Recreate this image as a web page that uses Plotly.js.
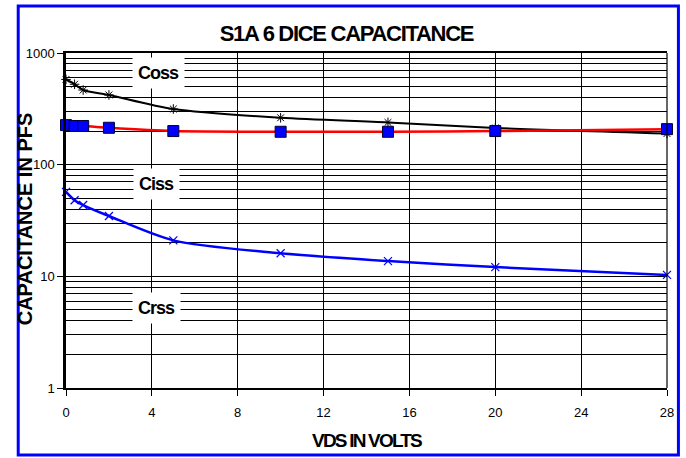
<!DOCTYPE html>
<html><head><meta charset="utf-8">
<script src="https://cdn.plot.ly/plotly-3.0.1.min.js"></script>
<style>
html,body{margin:0;padding:0;background:#fff}
#chart{width:686px;height:458px}
.gtitle{letter-spacing:-1.3px}
.xtitle{letter-spacing:-1.8px}
.annotation-text{letter-spacing:-1px}
.annotation[data-index="3"] .annotation-text{letter-spacing:0}
</style>
</head><body><div id="chart"></div>
<script>
const vds = [0, 0.4, 0.8, 2, 5, 10, 15, 20, 28];
const coss = [580, 525, 466, 421, 315, 263, 239, 213, 190];
const ciss = [226, 222, 222, 214, 200, 197, 197, 200, 208];
const crss = [57, 48, 43.5, 34.7, 21, 16.1, 13.7, 12.1, 10.3];
const xTicks = [0, 4, 8, 12, 16, 20, 24, 28];
const yTicks = [1, 10, 100, 1000];
const yTickText = ['1', '10', '100', '1000'];
const labels = ['Coss', 'Ciss', 'Crss'];
const labelPos = [[4.3, 660], [4.2, 67], [4.2, 5.2]];

const traces = [
  {x: vds, y: coss, mode: 'lines+markers', name: 'Coss', cliponaxis: false,
   line: {color: '#000', width: 2, shape: 'spline', smoothing: 0.8},
   marker: {symbol: 'asterisk-open', size: 8, color: '#000', line: {color: '#000', width: 1}}},
  {x: vds, y: ciss, mode: 'lines+markers', name: 'Ciss', cliponaxis: false,
   line: {color: '#ff0000', width: 2.5, shape: 'spline', smoothing: 0.8},
   marker: {symbol: 'square', size: 11, color: '#0000ff', line: {color: '#000033', width: 1}}},
  {x: vds, y: crss, mode: 'lines+markers', name: 'Crss', cliponaxis: false,
   line: {color: '#0000ff', width: 2.5, shape: 'spline', smoothing: 0.8},
   marker: {symbol: 'x-thin-open', size: 8, color: '#0000ff', line: {color: '#0000ff', width: 1.2}}}
];

const annotations = labels.map((t, i) => ({
  x: labelPos[i][0], y: Math.log10(labelPos[i][1]), xref: 'x', yref: 'y',
  text: '<b>' + t + '</b>', showarrow: false, bgcolor: '#fff', borderpad: 5,
  font: {family: 'Liberation Sans, Arial', size: 18, color: '#000'}
}));
annotations.push({
  x: -0.068, y: 0.504, xref: 'paper', yref: 'paper', xanchor: 'center', yanchor: 'middle',
  text: '<b>CAPACITANCE IN PFS</b>', textangle: -90, showarrow: false,
  font: {family: 'Liberation Sans, Arial', size: 20, color: '#000'}
});

const layout = {
  width: 686, height: 458,
  margin: {l: 66, r: 19, t: 53, b: 70},
  paper_bgcolor: '#fff', plot_bgcolor: '#fff',
  showlegend: false,
  font: {family: 'Liberation Sans, Arial', color: '#000', size: 12},
  title: {text: '<b>S1A 6 DICE CAPACITANCE</b>', x: 0.505, xanchor: 'center', y: 0.928, yanchor: 'middle',
          font: {size: 22, family: 'Liberation Sans, Arial', color: '#000'}},
  xaxis: {range: [0, 28], tickvals: xTicks, ticktext: xTicks.map(String),
          showgrid: true, gridcolor: '#000', gridwidth: 1,
          showline: true, linecolor: '#000', linewidth: 1.5, mirror: true,
          ticks: 'outside', ticklen: 6, tickcolor: '#000', zeroline: false,
          ticklabelstandoff: 6,
          tickfont: {size: 13},
          title: {text: '<b>VDS IN VOLTS</b>', standoff: 14, font: {size: 19}}},
  yaxis: {type: 'log', range: [0, 3], tickvals: yTicks, ticktext: yTickText,
          showgrid: true, gridcolor: '#000', gridwidth: 1,
          showline: true, linecolor: '#000', linewidth: 2.5, mirror: false,
          ticks: 'outside', ticklen: 6, tickcolor: '#000', zeroline: false,
          tickfont: {size: 13},
          minor: {dtick: 'D1', showgrid: true, gridcolor: '#000', gridwidth: 1, ticks: ''}},
  annotations: annotations,
  shapes: [
    {type: 'rect', xref: 'paper', yref: 'paper', x0: -0.0795, x1: 1.019, y0: -0.2, y1: 1.14,
     line: {color: '#0000ff', width: 3}, fillcolor: 'rgba(0,0,0,0)'},
    {type: 'line', xref: 'paper', yref: 'paper', x0: 1, x1: 1, y0: 0, y1: 1,
     line: {color: '#000', width: 1.2}}
  ]
};
Plotly.newPlot('chart', traces, layout, {displayModeBar: false});
</script></body></html>
